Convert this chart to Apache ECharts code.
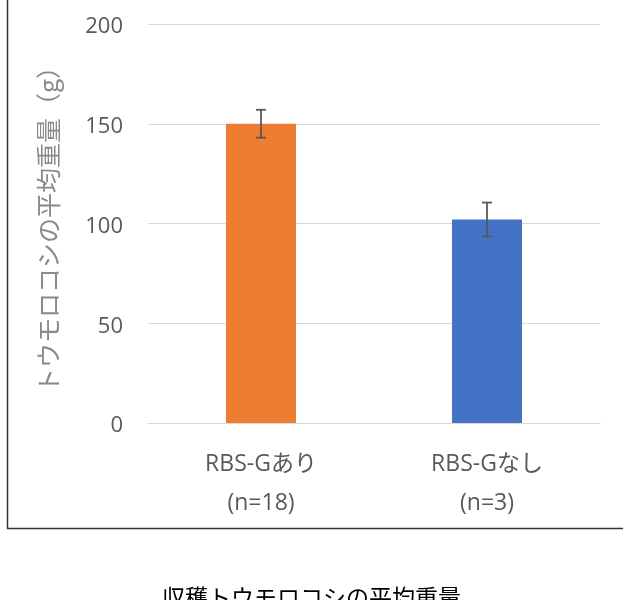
<!DOCTYPE html>
<html><head><meta charset="utf-8">
<script src="https://cdn.jsdelivr.net/npm/echarts@6/dist/echarts.min.js"></script>
<style>html,body{margin:0;padding:0;background:#fff}#c{width:623px;height:600px}</style>
</head><body><div id="c"></div>
<script>
const categories = ['RBS-Gあり\n(n=18)', 'RBS-Gなし\n(n=3)'];
const means = [150, 102];
const errors = [7, 8.5];
const barColors = ['#ED7D31', '#4472C4'];
const yTicks = { min: 0, max: 200, interval: 50 };
const yName = 'トウモロコシの平均重量（g）';
const titleText = '収穫トウモロコシの平均重量';

const FONT = '"Open Sans", "Noto Sans CJK JP", sans-serif';
const chart = echarts.init(document.getElementById('c'));
chart.setOption({
  animation: false,
  title: { text: titleText, left: 'center', top: 581,
    textStyle: { fontFamily: '"Noto Sans CJK JP", sans-serif', fontSize: 23, fontWeight: 'normal', color: '#000' } },
  grid: { left: 148, right: 23, top: 24, bottom: 177 },
  xAxis: { type: 'category', data: categories,
    axisLine: { lineStyle: { color: '#d9d9d9' } }, axisTick: { show: false },
    axisLabel: { fontFamily: FONT, fontSize: 23, color: '#595959', lineHeight: 39, margin: 22 } },
  yAxis: { type: 'value', min: yTicks.min, max: yTicks.max, interval: yTicks.interval,
    name: yName, nameLocation: 'middle', nameGap: 77, nameRotate: 90,
    nameTextStyle: { fontFamily: '"Noto Sans CJK JP", sans-serif', fontSize: 25, color: '#8a8a8a', padding: [0, 0, 10, 0] },
    axisLine: { show: false }, axisTick: { show: false },
    axisLabel: { fontFamily: FONT, fontSize: 22, color: '#595959', margin: 25, verticalAlign: 'top', lineHeight: 22, padding: [-8, 0, 0, 0] },
    splitLine: { lineStyle: { color: '#d9d9d9', width: 1 } } },
  series: [
    { type: 'bar', barWidth: '31%',
      data: means.map((v, i) => ({ value: v, itemStyle: { color: barColors[i] } })) },
    { type: 'custom', z: 10,
      data: means.map((v, i) => [i, v - errors[i], v + errors[i]]),
      renderItem: function (params, api) {
        const lo = api.coord([api.value(0), api.value(1)]);
        const hi = api.coord([api.value(0), api.value(2)]);
        const hw = 5;
        const st = { stroke: '#595959', lineWidth: 1.8 };
        return { type: 'group', children: [
          { type: 'line', shape: { x1: hi[0], y1: hi[1], x2: lo[0], y2: lo[1] }, style: st },
          { type: 'line', shape: { x1: hi[0] - hw, y1: hi[1], x2: hi[0] + hw, y2: hi[1] }, style: st },
          { type: 'line', shape: { x1: lo[0] - hw, y1: lo[1], x2: lo[0] + hw, y2: lo[1] }, style: st }
        ] };
      } }
  ],
  graphic: [
    { type: 'line', shape: { x1: 7.5, y1: 0, x2: 7.5, y2: 528.5 }, style: { stroke: '#333', lineWidth: 1.5 } },
    { type: 'line', shape: { x1: 7, y1: 528.5, x2: 623, y2: 528.5 }, style: { stroke: '#333', lineWidth: 1.5 } }
  ]
});
</script></body></html>
